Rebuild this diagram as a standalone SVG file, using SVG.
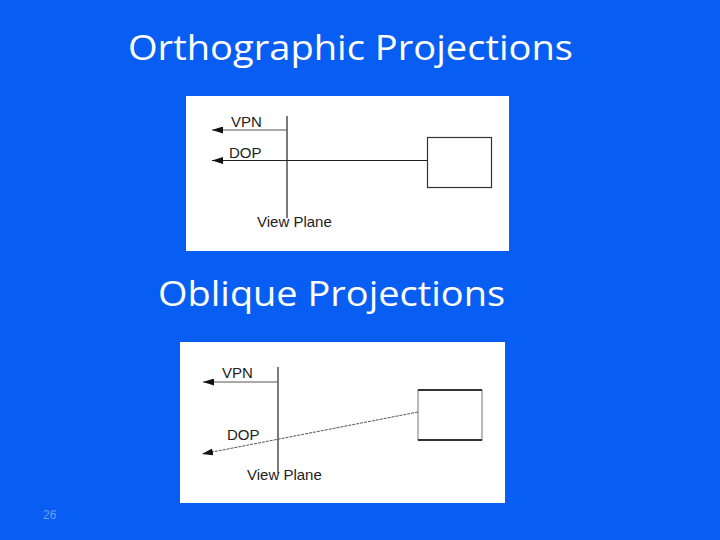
<svg xmlns="http://www.w3.org/2000/svg" width="720" height="540" viewBox="0 0 720 540">
<defs>
<style>
.title{font-family:"Open Sans","Noto Sans",sans-serif;font-size:34px;fill:#ffffff}
.lbl{font-family:"Liberation Sans",Arial,sans-serif;font-size:15px;fill:#222222}
.ln{stroke:#222222;stroke-width:1.2;fill:none}
.gl{stroke:#555555;stroke-width:1;fill:none}
.panel{fill:#ffffff}
</style>
<marker id="ah" viewBox="0 0 11 7" refX="11" refY="3.5" markerWidth="11" markerHeight="7" markerUnits="userSpaceOnUse" orient="auto">
<path d="M0,0 L11,3.5 L0,7 Z" fill="#111111"/>
</marker>
</defs>
<rect width="720" height="540" fill="#085ef2"/>
<text class="title" x="128" y="60" textLength="445" lengthAdjust="spacingAndGlyphs">Orthographic Projections</text>
<text class="title" x="158" y="306" textLength="347" lengthAdjust="spacingAndGlyphs">Oblique Projections</text>
<text x="43" y="519" font-family="Liberation Sans,Arial,sans-serif" font-size="12" fill="#6f9ef2">26</text>

<g id="ortho">
<rect class="panel" x="186" y="96" width="323" height="155"/>
<g id="ortho-box"><rect x="427.5" y="137.5" width="64" height="50" fill="#fff" stroke="#333" stroke-width="1.2"/></g>
<g id="ortho-connectors">
<line class="ln" x1="287" y1="116" x2="287" y2="218"/>
<line class="gl" x1="287" y1="130" x2="212" y2="130" marker-end="url(#ah)"/>
<line class="ln" x1="427.5" y1="160.5" x2="212" y2="160.5" marker-end="url(#ah)"/>
</g>
<text class="lbl" x="231" y="127">VPN</text>
<text class="lbl" x="229" y="158">DOP</text>
<text class="lbl" x="257" y="227">View Plane</text>
</g>

<g id="oblique">
<rect class="panel" x="180" y="342" width="325" height="161"/>
<g id="oblique-box">
<rect x="418" y="390" width="64" height="50" fill="#fff" stroke="#777" stroke-width="1"/>
<line x1="418" y1="390" x2="482" y2="390" stroke="#333" stroke-width="2"/>
<line x1="418" y1="440" x2="482" y2="440" stroke="#333" stroke-width="2"/>
</g>
<g id="oblique-connectors">
<line class="ln" x1="278" y1="367" x2="278" y2="473"/>
<line class="gl" x1="278" y1="382" x2="203" y2="382" marker-end="url(#ah)"/>
<line x1="418" y1="412" x2="202" y2="454" stroke="#555" stroke-width="1" stroke-dasharray="3 1" marker-end="url(#ah)"/>
</g>
<text class="lbl" x="222" y="378">VPN</text>
<text class="lbl" x="227" y="440">DOP</text>
<text class="lbl" x="247" y="480">View Plane</text>
</g>
</svg>
